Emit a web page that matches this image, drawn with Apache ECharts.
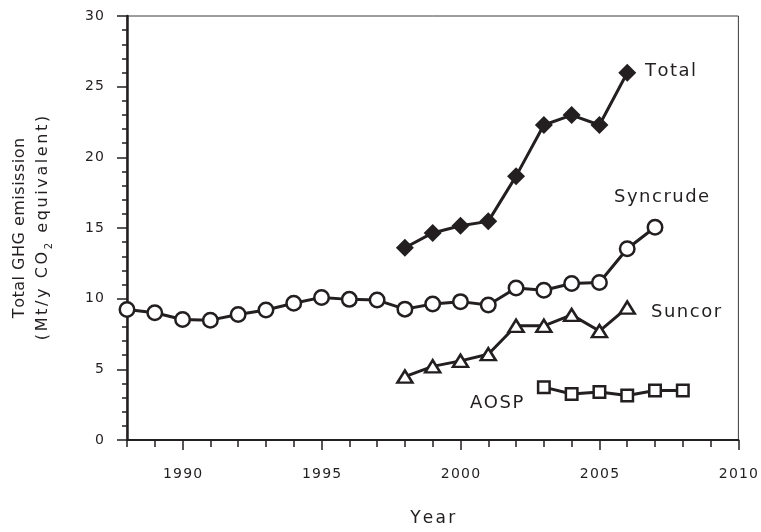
<!DOCTYPE html>
<html>
<head>
<meta charset="utf-8">
<script src="https://cdn.jsdelivr.net/npm/echarts@6/dist/echarts.min.js"></script>
<style>html,body{margin:0;padding:0;background:#fff}#c{width:761px;height:532px}</style>
</head>
<body>
<div id="c"></div>
<script>
// ---- data ----
const syncrudeYears = [1988,1989,1990,1991,1992,1993,1994,1995,1996,1997,1998,1999,2000,2001,2002,2003,2004,2005,2006,2007];
const syncrude = [9.23,9.0,8.53,8.48,8.88,9.2,9.67,10.09,9.95,9.9,9.26,9.62,9.79,9.55,10.75,10.6,11.07,11.14,13.53,15.05];
const totalYears = [1998,1999,2000,2001,2002,2003,2004,2005,2006];
const total = [13.6,14.65,15.16,15.47,18.67,22.29,22.99,22.29,25.98];
const suncorYears = [1998,1999,2000,2001,2002,2003,2004,2005,2006];
const suncor = [4.49,5.21,5.6,6.07,8.08,8.08,8.85,7.71,9.37];
const aospYears = [2003,2004,2005,2006,2007,2008];
const aosp = [3.74,3.25,3.39,3.15,3.5,3.5];
const xMajorTicks = [1990,1995,2000,2005,2010];
const seriesNames = ['Total','Syncrude','Suncor','AOSP'];

const INK = '#231f20';
const FONT = 'DejaVu Sans';
const pairs = (xs, ys) => xs.map((x, i) => [x, ys[i]]);

// letter-spaced rich text: each char a token, gaps via right padding
function spaced(text, key) {
  const chars = text.split('');
  return chars.map((ch, i) => '{' + (i < chars.length - 1 ? key : key + 'L') + '|' + ch + '}').join('');
}
function richPair(key, size, sp, extra) {
  const r = {};
  r[key] = Object.assign({fontFamily: FONT, fontSize: size, fill: INK, color: INK, padding: [0, sp, 0, 0]}, extra || {});
  r[key + 'L'] = Object.assign({fontFamily: FONT, fontSize: size, fill: INK, color: INK}, extra || {});
  return r;
}

const chart = echarts.init(document.getElementById('c'), null, {renderer: 'canvas'});
const lineBase = {
  type: 'line',
  xAxisIndex: 0,
  yAxisIndex: 0,
  lineStyle: {color: INK, width: 3},
  animation: false,
  z: 3
};
const tickRich = richPair('t', 14, 1.2);
const line2Rich = Object.assign({}, richPair('a', 16, 2.6, {lineHeight: 22}),
  {s: {fontFamily: FONT, fontSize: 10, fill: INK, lineHeight: 22, verticalAlign: 'bottom', padding: [0, 2.6, 0, 0]}});
const line2Text = spaced('(Mt/y CO', 'a').replace(/\{aL\|/g, '{a|') + '{s|2}' + spaced(' equivalent)', 'a');
const lblRich = richPair('b', 18, 1.5);

chart.setOption({
  animation: false,
  grid: {left: 127, right: 21, top: 16, bottom: 88, show: true, borderColor: '#3a3a3a', borderWidth: 1, backgroundColor: 'transparent'},
  xAxis: [
    {
      type: 'value', min: 1988, max: 2010, position: 'bottom',
      axisLine: {show: true, lineStyle: {color: INK, width: 2}},
      axisTick: {show: true, customValues: xMajorTicks, length: 10, lineStyle: {color: INK, width: 1.5}},
      axisLabel: {show: true, customValues: xMajorTicks, formatter: v => spaced(String(v), 't'), rich: tickRich, margin: 27, color: INK, fontFamily: FONT, fontSize: 14},
      splitLine: {show: false},
      name: spaced('Year', 'n'), nameLocation: 'middle', nameGap: 70,
      nameTextStyle: {color: INK, fontFamily: FONT, fontSize: 17, rich: richPair('n', 17, 2.2)}
    },
    {
      type: 'value', min: 1988, max: 2010, interval: 1, position: 'bottom',
      axisLine: {show: false},
      axisTick: {show: true, length: 7, lineStyle: {color: INK, width: 1.5}},
      axisLabel: {show: false},
      splitLine: {show: false}
    }
  ],
  yAxis: {
    type: 'value', min: 0, max: 30, interval: 5,
    axisLine: {show: true, lineStyle: {color: INK, width: 2.5}},
    axisTick: {show: true, length: 10, lineStyle: {color: INK, width: 1.5}},
    minorTick: {show: true, splitNumber: 5, length: 5, lineStyle: {color: INK, width: 1.5}},
    axisLabel: {margin: 23, formatter: v => spaced(String(v), 't'), rich: tickRich, color: INK, fontFamily: FONT, fontSize: 14},
    splitLine: {show: false},
    minorSplitLine: {show: false}
  },
  graphic: [
    {type: 'text', x: 20, y: 228, rotation: Math.PI / 2,
     style: {text: spaced('Total GHG emisission', 'c'), rich: richPair('c', 16, 0.5), fill: INK, align: 'center', verticalAlign: 'middle'}},
    {type: 'text', x: 43, y: 228, rotation: Math.PI / 2,
     style: {text: line2Text, fill: INK, align: 'center', verticalAlign: 'middle', rich: line2Rich}},
    {type: 'text', x: 645, y: 71, style: {text: spaced(seriesNames[0], 'b'), rich: lblRich, fill: INK, align: 'left', verticalAlign: 'middle'}},
    {type: 'text', x: 614, y: 197, style: {text: spaced(seriesNames[1], 'b'), rich: lblRich, fill: INK, align: 'left', verticalAlign: 'middle'}},
    {type: 'text', x: 651, y: 312, style: {text: spaced(seriesNames[2], 'b'), rich: lblRich, fill: INK, align: 'left', verticalAlign: 'middle'}},
    {type: 'text', x: 470, y: 403, style: {text: spaced(seriesNames[3], 'b'), rich: lblRich, fill: INK, align: 'left', verticalAlign: 'middle'}}
  ],
  series: [
    Object.assign({}, lineBase, {
      name: seriesNames[0], data: pairs(totalYears, total),
      symbol: 'diamond', symbolSize: 18,
      itemStyle: {color: INK, borderColor: INK, borderWidth: 0}
    }),
    Object.assign({}, lineBase, {
      name: seriesNames[1], data: pairs(syncrudeYears, syncrude),
      symbol: 'circle', symbolSize: 14.5,
      itemStyle: {color: '#fff', borderColor: INK, borderWidth: 2.5}
    }),
    Object.assign({}, lineBase, {
      name: seriesNames[2], data: pairs(suncorYears, suncor),
      symbol: 'triangle', symbolSize: [15, 12],
      itemStyle: {color: '#fff', borderColor: INK, borderWidth: 2.5}
    }),
    Object.assign({}, lineBase, {
      name: seriesNames[3], data: pairs(aospYears, aosp),
      symbol: 'rect', symbolSize: 11.5,
      itemStyle: {color: '#fff', borderColor: INK, borderWidth: 2.5}
    })
  ]
});
</script>
</body>
</html>
